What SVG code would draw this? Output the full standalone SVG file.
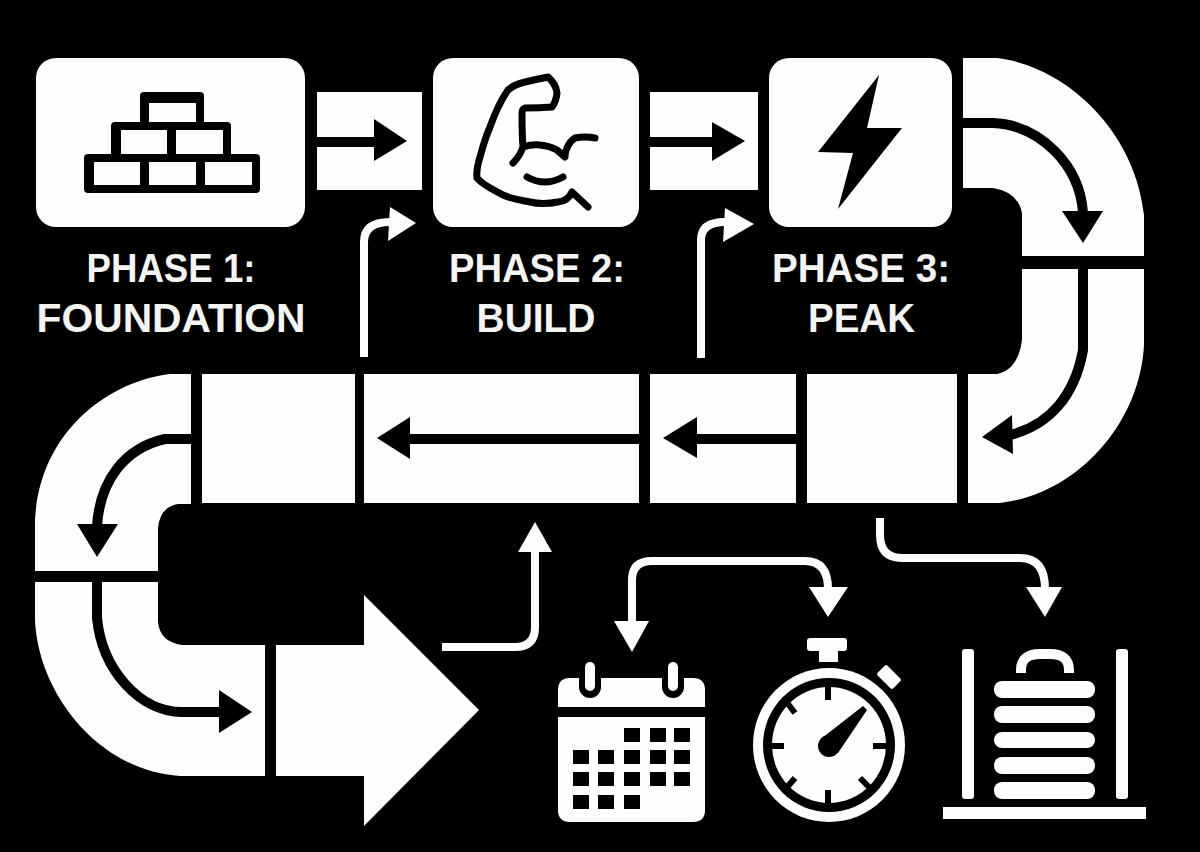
<svg xmlns="http://www.w3.org/2000/svg" width="1200" height="852" viewBox="0 0 1200 852">
<style>
.w{fill:#fefefc}
.k{fill:#000}
.lk{fill:none;stroke:#000;stroke-width:10}
.lw{fill:none;stroke:#fefefc;stroke-width:8}
.m{fill:none;stroke:#000;stroke-width:7;stroke-linecap:round;stroke-linejoin:round}
.t{font-family:"Liberation Sans","Noto Sans",sans-serif;font-weight:700;font-size:41px;fill:#f4f4f2;text-anchor:middle}
</style>
<rect width="1200" height="852" fill="#000"/>
<g id="track">
<rect class="w" x="317" y="92" width="105" height="98"/>
<rect class="w" x="650" y="92" width="108" height="98"/>
<path class="w" d="M963 58H997C1065 66 1135 130 1144 215V256H1022V213Q1018 192 993 188H963Z"/>
<path class="w" d="M1022 269H1144V345C1140 425 1075 495 1000 503H968V374H997Q1018 370 1022 340Z"/>
<rect class="w" x="807" y="374" width="150" height="129"/>
<rect class="w" x="650" y="374" width="146" height="129"/>
<rect class="w" x="364" y="374" width="275" height="129"/>
<rect class="w" x="202" y="374" width="153" height="129"/>
<path class="w" d="M191 374H170C110 381 40 430 35 520V571H158V528Q160 507 178 504H191Z"/>
<path class="w" d="M35 582H158V622Q160 642 182 645H265V776H180C95 770 38 690 35 620Z"/>
<path class="w" d="M276 645H364V595L479 710L364 826V776H276Z"/>
</g>
<g id="node-phase-1">
<rect class="w" x="36" y="58" width="269" height="169" rx="20"/>
<rect class="k" x="140" y="92" width="64" height="34" rx="4"/>
<rect class="k" x="111" y="122" width="120" height="38" rx="4"/>
<rect class="k" x="84" y="154" width="176" height="39" rx="4"/>
<rect class="w" x="149" y="103" width="47" height="19"/>
<rect class="w" x="121" y="130" width="46" height="24"/>
<rect class="w" x="176" y="130" width="47" height="24"/>
<rect class="w" x="94" y="162" width="46" height="23"/>
<rect class="w" x="149" y="162" width="47" height="23"/>
<rect class="w" x="205" y="162" width="47" height="23"/>
<text class="t" x="171" y="282" textLength="169" lengthAdjust="spacingAndGlyphs">PHASE 1:</text>
<text class="t" x="171" y="332" textLength="269" lengthAdjust="spacingAndGlyphs">FOUNDATION</text>
</g>
<g id="node-phase-2">
<rect class="w" x="433" y="58" width="206" height="169" rx="20"/>
<path class="m" d="M588 207L572 192Q568 201 558 202C548 204 538 204 530 202C520 200 512 199 503 195C494 190 484 186 477 178C476 170 478 164 480 157C483 146 486 136 490 127C495 113 501 100 508 90Q515 84 525 82Q538 79 548 77Q556 84 557 93Q556 102 552 107Q540 108 525 108Q522 109 522 113C522 125 522 136 523 147Q520 156 513 163M523 147Q532 144 540 145Q550 146 557 150L565 157Q565 152 567 148Q570 141 575 138Q585 136 595 138"/>
<path class="m" d="M527 177Q545 187 563 177"/>
<text class="t" x="537" y="282" textLength="176" lengthAdjust="spacingAndGlyphs">PHASE 2:</text>
<text class="t" x="536" y="332" textLength="119" lengthAdjust="spacingAndGlyphs">BUILD</text>
</g>
<g id="node-phase-3">
<rect class="w" x="769" y="58" width="183" height="169" rx="20"/>
<polygon class="k" points="879,75 818,152 853,153 838,209 902,128 867,128"/>
<text class="t" x="861" y="282" textLength="178" lengthAdjust="spacingAndGlyphs">PHASE 3:</text>
<text class="t" x="861.500" y="332" textLength="107" lengthAdjust="spacingAndGlyphs">PEAK</text>
</g>
<g id="connectors">
<path class="lk" d="M317 142H376"/><polygon class="k" points="374,119 407,141 374,161"/>
<path class="lk" d="M650 142H714"/><polygon class="k" points="712,122 745,141 712,161"/>
<path class="lk" d="M963 123H993C1040 125 1080 165 1083 213"/><polygon class="k" points="1062,211 1103,211 1083,243"/>
<path class="lk" d="M1083 269V350C1075 395 1050 425 1010 435"/><polygon class="k" points="1012,415 1013,454 982,437"/>
<path class="lk" d="M796 439H695"/><polygon class="k" points="697,417 697,458 663,438"/>
<path class="lk" d="M639 439H408"/><polygon class="k" points="410,417 410,459 377,438"/>
<path class="lk" d="M191 439H165C125 448 100 480 97 526"/><polygon class="k" points="77,524 118,524 97,557"/>
<path class="lk" d="M97 582V618C102 670 140 712 182 712H222"/><polygon class="k" points="219,690 252,712 219,733"/>
<path class="lw" d="M364 357V242Q364 222 390 222"/><polygon class="w" points="390,207 416,223 388,241"/>
<path class="lw" d="M701 358V240Q701 222 725 222"/><polygon class="w" points="725,208 754,224 723,242"/>
<path class="lw" d="M442 647H515Q535 647 535 627V550"/><polygon class="w" points="518,552 552,552 535,522"/>
<path class="lw" d="M632 623V580Q632 561 652 561H805Q828 561 828 589"/><polygon class="w" points="614,621 649,621 632,652"/><polygon class="w" points="809,587 848,587 828,617"/>
<path class="lw" d="M880 518V535Q880 558 902 558H1020Q1045 558 1045 589"/><polygon class="w" points="1026,587 1062,587 1045,617"/>
</g>
<g id="icon-calendar">
<path class="w" d="M570 678H693Q705 678 705 690V707H558V690Q558 678 570 678Z"/>
<path class="w" d="M558 717H705V810Q705 822 693 822H570Q558 822 558 810Z"/>
<rect class="k" x="579" y="662" width="22" height="36" rx="11"/>
<rect class="k" x="662" y="662" width="22" height="36" rx="11"/>
<rect class="w" x="585" y="662" width="10" height="29" rx="5"/>
<rect class="w" x="668" y="662" width="10" height="29" rx="5"/>
<g class="k">
<rect x="624" y="728" width="16" height="14"/><rect x="650" y="728" width="16" height="14"/><rect x="674" y="728" width="16" height="14"/>
<rect x="573" y="750" width="16" height="14"/><rect x="598" y="750" width="16" height="14"/><rect x="624" y="750" width="16" height="14"/><rect x="650" y="750" width="16" height="14"/><rect x="674" y="750" width="16" height="14"/>
<rect x="573" y="772" width="16" height="14"/><rect x="598" y="772" width="16" height="14"/><rect x="624" y="772" width="16" height="14"/><rect x="650" y="772" width="16" height="14"/><rect x="674" y="772" width="16" height="14"/>
<rect x="573" y="795" width="16" height="14"/><rect x="598" y="795" width="16" height="14"/><rect x="624" y="795" width="16" height="14"/>
</g>
</g>
<g id="icon-stopwatch">
<rect class="w" x="807" y="638" width="40" height="13" rx="3"/>
<rect class="w" x="819" y="650" width="19" height="12"/>
<rect class="w" x="878" y="670" width="22" height="14" rx="2" transform="rotate(45 889 677)"/>
<ellipse class="w" cx="829" cy="745" rx="76" ry="77"/>
<ellipse class="k" cx="829" cy="745" rx="66" ry="67"/>
<ellipse class="w" cx="829" cy="745" rx="57" ry="58"/>
<g stroke="#000" stroke-width="6">
<path d="M828 687V700M828 803V790M771 746H784M887 746H873M785 700L795 713M783 792L795 778M872 790L860 778"/>
</g>
<circle class="k" cx="829" cy="746" r="11"/>
<polygon class="k" points="822,738 863,706 867,710 838,753"/>
</g>
<g id="icon-weights">
<rect class="w" x="962" y="649" width="12" height="150" rx="3"/>
<rect class="w" x="1116" y="649" width="12" height="150" rx="3"/>
<rect class="w" x="943" y="807" width="203" height="12"/>
<path fill="none" stroke="#fefefc" stroke-width="10" d="M1021 673V670Q1021 654 1040 654H1050Q1069 654 1069 670V673"/>
<rect class="w" x="994" y="681" width="101" height="17" rx="8"/>
<rect class="w" x="994" y="706" width="101" height="17" rx="8"/>
<rect class="w" x="994" y="732" width="101" height="16" rx="8"/>
<rect class="w" x="994" y="757" width="101" height="17" rx="8"/>
<rect class="w" x="994" y="782" width="101" height="17" rx="8"/>
</g>
</svg>
